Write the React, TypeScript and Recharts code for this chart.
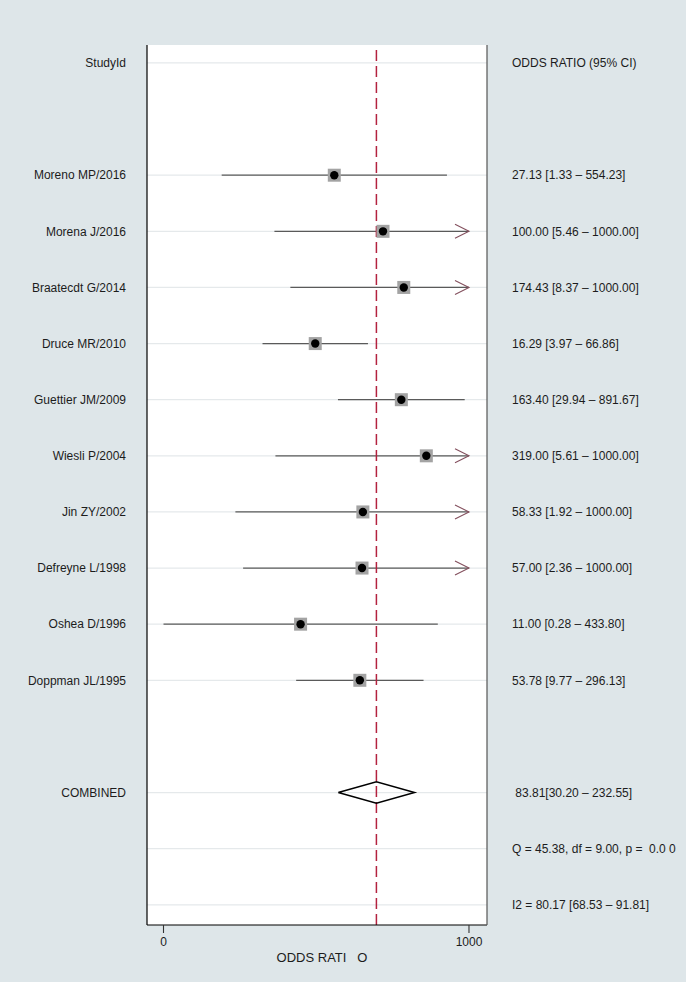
import React from 'react';
import { ComposedChart, XAxis, YAxis, Scatter, ReferenceLine, CartesianGrid, Label } from 'recharts';

const studies = [
  'Moreno MP/2016',
  'Morena J/2016',
  'Braatecdt G/2014',
  'Druce MR/2010',
  'Guettier JM/2009',
  'Wiesli P/2004',
  'Jin ZY/2002',
  'Defreyne L/1998',
  'Oshea D/1996',
  'Doppman JL/1995',
];
const oddsRatio = [27.13, 100.0, 174.43, 16.29, 163.4, 319.0, 58.33, 57.0, 11.0, 53.78];
const ciLower = [1.33, 5.46, 8.37, 3.97, 29.94, 5.61, 1.92, 2.36, 0.28, 9.77];
const ciUpper = [554.23, 1000.0, 1000.0, 66.86, 891.67, 1000.0, 1000.0, 1000.0, 433.8, 296.13];

const combinedEstimate = [83.81, 30.2, 232.55]; // OR, lower, upper
const headerLeft = 'StudyId';
const headerRight = 'ODDS RATIO (95% CI)';
const combinedLabel = 'COMBINED';
const combinedText = ' 83.81[30.20 \u2013 232.55]';
const heterogeneityText = 'Q = 45.38, df = 9.00, p =  0.0 0';
const i2Text = 'I2 = 80.17 [68.53 \u2013 91.81]';
const xTicks = [0.28, 1000];
const xTitle = 'ODDS RATI   O';

// layout rows
const HEADER_ROW = 0;
const FIRST_STUDY_ROW = 2;
const COMBINED_ROW = 13;
const Q_ROW = 14;
const I2_ROW = 15;
const X_DOMAIN = [0.18, 1620];
const Y_DOMAIN = [-0.32, 15.36];
const X_CAP = 1000;

const FONT = '"Liberation Sans", Arial, Helvetica, sans-serif';
const TEXT = '#1c1c1c';

const leftLabels: Record<number, string> = { [HEADER_ROW]: headerLeft, [COMBINED_ROW]: combinedLabel };
const rightLabels: Record<number, string> = {
  [HEADER_ROW]: headerRight,
  [COMBINED_ROW]: combinedText,
  [Q_ROW]: heterogeneityText,
  [I2_ROW]: i2Text,
};
studies.forEach((s, i) => {
  const r = FIRST_STUDY_ROW + i;
  leftLabels[r] = s;
  rightLabels[r] = `${oddsRatio[i].toFixed(2)} [${ciLower[i].toFixed(2)} \u2013 ${ciUpper[i].toFixed(2)}]`;
});
const labelRows = Object.keys(rightLabels).map(Number).sort((a, b) => a - b);

const boxData = studies.map((s, i) => ({ x: oddsRatio[i], y: FIRST_STUDY_ROW + i, name: s }));
const DIAMOND_H = 0.19;
const diamondData = [
  { x: combinedEstimate[1], y: COMBINED_ROW },
  { x: combinedEstimate[0], y: COMBINED_ROW - DIAMOND_H },
  { x: combinedEstimate[2], y: COMBINED_ROW },
  { x: combinedEstimate[0], y: COMBINED_ROW + DIAMOND_H },
  { x: combinedEstimate[1], y: COMBINED_ROW },
];

const makeTick = (labels: Record<number, string>, anchor: 'start' | 'end') => (props: any) => {
  const { x, y, payload } = props;
  const s = labels[payload.value] ?? '';
  return (
    <text
      x={x}
      y={y}
      dy="0.35em"
      textAnchor={anchor}
      fontSize={12}
      fontFamily={FONT}
      fill={TEXT}
      style={{ whiteSpace: 'pre' }}
    >
      {s}
    </text>
  );
};

const ciShape = (arrow: boolean) => (props: any) => {
  const { x1, y1, x2, y2 } = props;
  return (
    <g>
      <line x1={x1} y1={y1} x2={x2} y2={y2} stroke="#5a5a5a" strokeWidth={1.2} />
      {arrow && (
        <polyline
          points={`${x2 - 14},${y2 - 7} ${x2},${y2} ${x2 - 14},${y2 + 7}`}
          fill="none"
          stroke="#84505e"
          strokeWidth={1.1}
        />
      )}
    </g>
  );
};

const BoxShape = (props: any) => {
  const { cx, cy } = props;
  return (
    <g>
      <rect x={cx - 6.5} y={cy - 6.5} width={13} height={13} fill="#a3a3a3" />
      <circle cx={cx} cy={cy} r={4.2} fill="#000" />
    </g>
  );
};

export default function App() {
  return (
    <div style={{ position: 'absolute', left: 0, top: 0, width: 686, height: 982, background: '#dee6e9' }}>
      <ComposedChart width={686} height={982} margin={{ top: 45, right: 0, bottom: 0, left: 0 }}>
        <CartesianGrid horizontal={false} vertical={false} fill="#ffffff" fillOpacity={1} />
        <XAxis
          type="number"
          dataKey="x"
          scale="log"
          domain={X_DOMAIN}
          allowDataOverflow
          ticks={xTicks}
          interval={0}
          tickFormatter={(v: number) => String(Math.round(v))}
          height={57}
          tickSize={8}
          tickMargin={4}
          axisLine={{ stroke: '#000', strokeWidth: 1.2 }}
          tickLine={{ stroke: '#333', strokeWidth: 1.1 }}
          tick={{ fontSize: 12, fontFamily: FONT, fill: TEXT }}
        >
          <Label
            content={(p: any) => {
              const vb = p.viewBox;
              return (
                <text
                  x={vb.x + vb.width / 2 + 5}
                  y={vb.y + 37}
                  textAnchor="middle"
                  fontSize={13}
                  fontFamily={FONT}
                  fill={TEXT}
                  style={{ whiteSpace: 'pre' }}
                >
                  {xTitle}
                </text>
              );
            }}
          />
        </XAxis>
        <YAxis
          yAxisId="l"
          type="number"
          dataKey="y"
          orientation="left"
          width={147}
          reversed
          domain={Y_DOMAIN}
          allowDataOverflow
          ticks={labelRows}
          interval={0}
          tickSize={0}
          tickMargin={21}
          tickLine={false}
          axisLine={{ stroke: '#000', strokeWidth: 1.2 }}
          tick={makeTick(leftLabels, 'end')}
        />
        <YAxis
          yAxisId="r"
          type="number"
          orientation="right"
          width={199}
          reversed
          domain={Y_DOMAIN}
          allowDataOverflow
          ticks={labelRows}
          interval={0}
          tickSize={0}
          tickMargin={25}
          tickLine={false}
          axisLine={{ stroke: '#555', strokeWidth: 1.2 }}
          tick={makeTick(rightLabels, 'start')}
        />
        {labelRows.map((r) => (
          <ReferenceLine key={`g${r}`} yAxisId="l" y={r} stroke="#e5e9eb" strokeWidth={1.3} />
        ))}
        {studies.map((s, i) => (
          <ReferenceLine
            key={`ci${i}`}
            yAxisId="l"
            segment={[
              { x: ciLower[i], y: FIRST_STUDY_ROW + i },
              { x: ciUpper[i], y: FIRST_STUDY_ROW + i },
            ]}
            shape={ciShape(ciUpper[i] >= X_CAP)}
          />
        ))}
        <ReferenceLine
          yAxisId="l"
          x={combinedEstimate[0]}
          stroke="#b3223f"
          strokeWidth={1.5}
          strokeDasharray="11 5"
        />
        <Scatter
          yAxisId="l"
          data={boxData}
          shape={BoxShape}
          isAnimationActive={false}
        />
        <Scatter
          yAxisId="l"
          data={diamondData}
          line={{ stroke: '#000', strokeWidth: 1.5 }}
          lineJointType="linear"
          shape={() => <g />}
          isAnimationActive={false}
        />
      </ComposedChart>
    </div>
  );
}
